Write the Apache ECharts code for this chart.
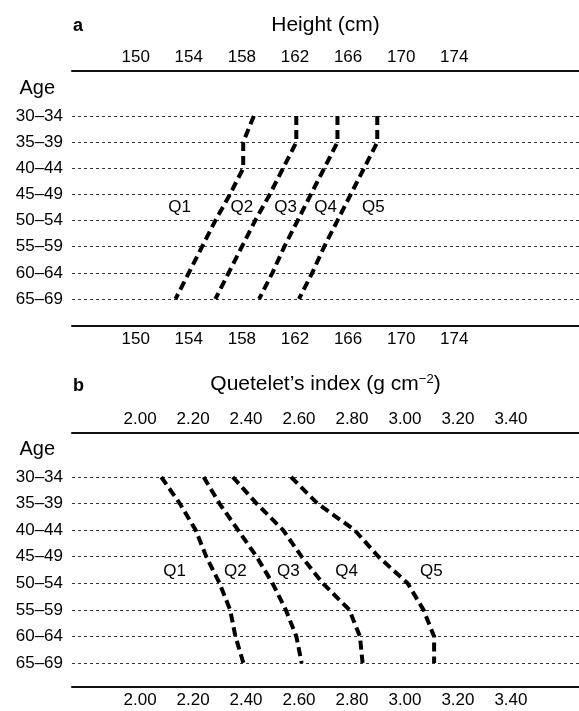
<!DOCTYPE html>
<html>
<head>
<meta charset="utf-8">
<script src="https://cdn.jsdelivr.net/npm/echarts@6/dist/echarts.min.js"></script>
<style>
  html, body { margin: 0; padding: 0; background: #fff; }
  #chart { width: 579px; height: 711px; }
</style>
</head>
<body>
<div id="chart"></div>
<script>
// Age groups (rows) and tick labels
const ages = ['30–34', '35–39', '40–44', '45–49', '50–54', '55–59', '60–64', '65–69'];
const heightTicks = [150, 154, 158, 162, 166, 170, 174];
const qiTicks = [2.00, 2.20, 2.40, 2.60, 2.80, 3.00, 3.20, 3.40];
const quintiles = ['Q1', 'Q2', 'Q3', 'Q4', 'Q5'];

// panel a: height (cm) at the quintile boundaries, one value per age group
const heightQ1Q2 = [158.9, 158.1, 158.1, 157.1, 156.0, 155.0, 154.0, 153.0];
const heightQ2Q3 = [162.1, 162.1, 161.1, 160.1, 159.0, 158.0, 157.0, 156.0];
const heightQ3Q4 = [165.2, 165.2, 164.2, 163.2, 162.2, 161.2, 160.3, 159.3];
const heightQ4Q5 = [168.2, 168.2, 167.2, 166.2, 165.2, 164.2, 163.3, 162.3];
const heightLabelX = [153.3, 158.0, 161.3, 164.3, 167.9];

// panel b: Quetelet's index (g cm-2) at the quintile boundaries
const qiQ1Q2 = [2.08, 2.15, 2.21, 2.25, 2.30, 2.34, 2.36, 2.39];
const qiQ2Q3 = [2.24, 2.30, 2.37, 2.44, 2.50, 2.55, 2.59, 2.61];
const qiQ3Q4 = [2.35, 2.44, 2.54, 2.61, 2.69, 2.79, 2.83, 2.84];
const qiQ4Q5 = [2.57, 2.67, 2.81, 2.90, 3.01, 3.07, 3.11, 3.11];
const qiLabelX = [2.13, 2.36, 2.56, 2.78, 3.10];

// quintile labels sit just above this row
const labelRow = '50–54';

const FONT = 'Liberation Sans, Arial, Helvetica, sans-serif';
const chart = echarts.init(document.getElementById('chart'), null, { renderer: 'canvas' });

function xAxisPair(gridIndex, min, max, ticks, fmt, name, topOffset, bottomOffset, nameGap) {
    const base = {
        type: 'value',
        gridIndex: gridIndex,
        min: min,
        max: max,
        axisLine: { show: true, lineStyle: { color: '#111', width: 2 } },
        axisTick: { show: false },
        splitLine: { show: false },
        axisLabel: {
            customValues: ticks,
            formatter: fmt,
            color: '#000',
            fontSize: 17,
            fontFamily: FONT,
            margin: 5
        }
    };
    return [
        Object.assign({}, base, {
            position: 'top',
            offset: topOffset,
            name: name,
            nameLocation: 'middle',
            nameGap: nameGap,
            nameTextStyle: {
                color: '#000',
                fontSize: 21,
                fontFamily: FONT,
                rich: {
                    sup: { fontSize: 13, fontFamily: FONT, color: '#000', padding: [0, 0, 10, 0] }
                }
            }
        }),
        Object.assign({}, base, { position: 'bottom', offset: bottomOffset })
    ];
}

function yAxis(gridIndex) {
    return {
        type: 'category',
        gridIndex: gridIndex,
        data: ages,
        inverse: true,
        boundaryGap: false,
        name: 'Age',
        nameLocation: 'start',
        nameGap: 18,
        nameTextStyle: { color: '#000', fontSize: 20, fontFamily: FONT, align: 'right', padding: [0, 17, 0, 0] },
        axisLine: { show: false },
        axisTick: { show: false },
        axisLabel: { color: '#000', fontSize: 17, fontFamily: FONT, margin: 9, interval: 0 },
        splitLine: { show: true, interval: 0, lineStyle: { color: '#333', width: 1, type: [3, 3] } }
    };
}

function boundary(values, xi, yi) {
    return {
        type: 'line',
        xAxisIndex: xi,
        yAxisIndex: yi,
        data: values,
        symbol: 'none',
        silent: true,
        z: 3,
        lineStyle: { color: '#000', width: 4, type: [9, 5] }
    };
}

function quintileLabels(xs, lift, xi, yi) {
    return {
        type: 'scatter',
        xAxisIndex: xi,
        yAxisIndex: yi,
        symbol: 'circle',
        symbolSize: 1,
        silent: true,
        z: 4,
        itemStyle: { color: '#fff', opacity: 0 },
        label: {
            show: true,
            position: 'inside',
            offset: [0, -lift],
            formatter: p => p.name,
            color: '#000',
            opacity: 1,
            fontSize: 17,
            fontFamily: FONT
        },
        data: xs.map((x, i) => ({ name: quintiles[i], value: [x, labelRow] }))
    };
}

const fmtHeight = v => String(v);
const fmtQi = v => Number(v).toFixed(2);

const option = {
    animation: false,
    backgroundColor: '#fff',
    title: [
        { text: 'a', left: 68, top: 12, textStyle: { fontSize: 18, fontWeight: 'bold', fontFamily: FONT, color: '#000' } },
        { text: 'b', left: 68, top: 372, textStyle: { fontSize: 18, fontWeight: 'bold', fontFamily: FONT, color: '#000' } }
    ],
    grid: [
        { left: 72, right: 0, top: 116, height: 183 },
        { left: 72, right: 0, top: 477, height: 186 }
    ],
    xAxis: [
        ...xAxisPair(0, 145.2, 183.4, heightTicks, fmtHeight, 'Height (cm)', 45, 27, 35),
        ...xAxisPair(1, 1.743, 3.657, qiTicks, fmtQi, 'Quetelet’s index (g cm{sup|−2})', 44, 24, 37)
    ],
    yAxis: [yAxis(0), yAxis(1)],
    series: [
        boundary(heightQ1Q2, 1, 0),
        boundary(heightQ2Q3, 1, 0),
        boundary(heightQ3Q4, 1, 0),
        boundary(heightQ4Q5, 1, 0),
        quintileLabels(heightLabelX, 13, 1, 0),
        boundary(qiQ1Q2, 3, 1),
        boundary(qiQ2Q3, 3, 1),
        boundary(qiQ3Q4, 3, 1),
        boundary(qiQ4Q5, 3, 1),
        quintileLabels(qiLabelX, 12, 3, 1)
    ]
};

chart.setOption(option);
</script>
</body>
</html>
